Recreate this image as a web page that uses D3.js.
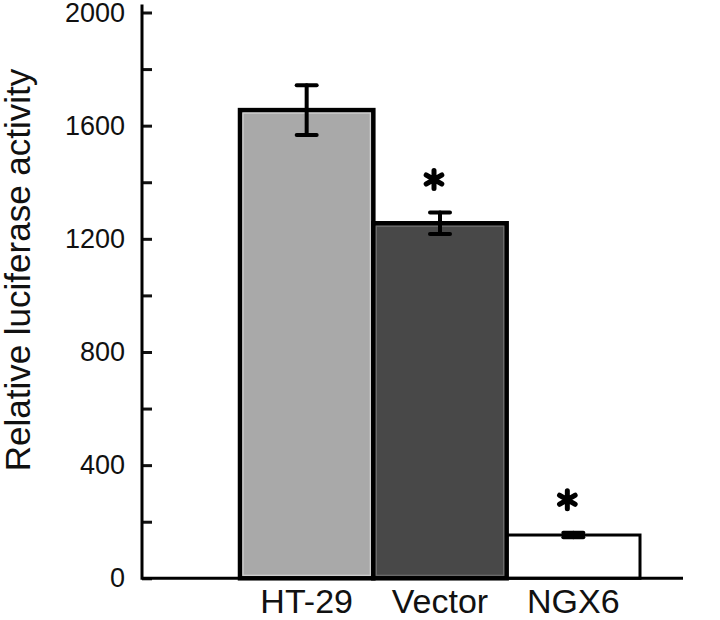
<!DOCTYPE html>
<html lang="en">
<head>
  <meta charset="UTF-8">
  <title>Relative luciferase activity</title>
  <style>
    body { margin: 0; background: #fff; }
    svg { display: block; background: #fff; }
    text { font-family: "Liberation Sans", Arial, sans-serif; fill: #111; }
    .tick line { stroke: #111; stroke-width: 3px; }
  </style>
</head>
<body>
  <svg id="chart" width="720" height="620"></svg>
  <script src="https://d3js.org/d3.v7.min.js"></script>
  <script>
    // values
    const categories = ["HT-29", "Vector", "NGX6"];
    const means = [1655, 1255, 153];
    const errors = [88, 38, 8];
    const significant = [false, true, true];
    const majorTicks = [0, 400, 800, 1200, 1600, 2000];
    const minorTicks = [200, 600, 1000, 1400, 1800];

    const data = categories.map((c, i) => ({ name: c, mean: means[i], err: errors[i], star: significant[i] }));

    const svg = d3.select("#chart");
    const axisX = 142, baseY = 578.3, topY = 12.5;

    const y = d3.scaleLinear().domain([0, 2000]).range([baseY, topY]);
    const x = d3.scaleBand().domain(categories).range([240, 640]).padding(0);

    const fill = d3.scaleOrdinal(categories, ["#a9a9a9", "#484848", "#ffffff"]);
    const inner = d3.scaleOrdinal(categories, ["#d2d2d2", "#6e6e6e", "none"]);

    // bars (NGX6 first so the thicker Vector edge sits on top)
    const barOrder = [data[2], data[0], data[1]];
    const bars = svg.append("g");
    bars.selectAll("rect.bar")
      .data(barOrder)
      .join("rect")
      .attr("class", "bar")
      .attr("x", d => x(d.name))
      .attr("y", d => y(d.mean))
      .attr("width", x.bandwidth())
      .attr("height", d => y(0) - y(d.mean))
      .attr("fill", d => fill(d.name))
      .attr("stroke", "#000")
      .attr("stroke-width", d => d.name === "NGX6" ? 3 : 4.5);

    bars.selectAll("rect.inner")
      .data(barOrder.filter(d => inner(d.name) !== "none"))
      .join("rect")
      .attr("class", "inner")
      .attr("x", d => x(d.name) + 3)
      .attr("y", d => y(d.mean) + 3)
      .attr("width", x.bandwidth() - 6)
      .attr("height", d => y(0) - y(d.mean) - 6)
      .attr("fill", "none")
      .attr("stroke", d => inner(d.name))
      .attr("stroke-width", 1.2);

    // error bars
    const eb = svg.append("g")
      .attr("stroke", "#000")
      .attr("stroke-width", 4)
      .attr("stroke-linecap", "round");
    const cx = d => x(d.name) + x.bandwidth() / 2;
    eb.selectAll("line.v")
      .data(data)
      .join("line")
      .attr("x1", cx).attr("x2", cx)
      .attr("y1", d => y(d.mean + d.err))
      .attr("y2", d => y(d.mean - d.err));
    eb.selectAll("line.top")
      .data(data)
      .join("line")
      .attr("x1", d => cx(d) - 10).attr("x2", d => cx(d) + 10)
      .attr("y1", d => y(d.mean + d.err)).attr("y2", d => y(d.mean + d.err));
    eb.selectAll("line.bot")
      .data(data)
      .join("line")
      .attr("x1", d => cx(d) - 10).attr("x2", d => cx(d) + 10)
      .attr("y1", d => y(d.mean - d.err)).attr("y2", d => y(d.mean - d.err));

    // significance stars
    svg.append("g")
      .selectAll("path")
      .data(data.filter(d => d.star))
      .join("path")
      .attr("transform", d => `translate(${cx(d) - 6},${y(d.mean + d.err) - 33})`)
      .attr("d", d3.symbol(d3.symbolAsterisk, 230))
      .attr("stroke", "#000")
      .attr("stroke-width", 5)
      .attr("stroke-linecap", "round")
      .attr("fill", "none");

    // y axis: ticks point inward
    const yAxis = svg.append("g").attr("transform", `translate(${axisX},0)`);
    yAxis.call(d3.axisLeft(y).tickValues(majorTicks).tickSize(-10).tickPadding(17).tickFormat(d3.format("d")))
      .call(g => g.select(".domain").remove())
      .call(g => g.selectAll("text").attr("font-size", 27).attr("fill", "#111"));
    yAxis.append("g")
      .call(d3.axisLeft(y).tickValues(minorTicks).tickSize(-10).tickFormat(""))
      .call(g => g.select(".domain").remove());
    yAxis.selectAll(".tick line").attr("stroke", "#111").attr("stroke-width", 3);

    // axis lines
    svg.append("path")
      .attr("d", `M${axisX},${topY - 8}V${baseY}H683`)
      .attr("fill", "none")
      .attr("stroke", "#000")
      .attr("stroke-width", 3);

    // category labels
    svg.append("g")
      .selectAll("text")
      .data(categories)
      .join("text")
      .attr("x", d => x(d) + x.bandwidth() / 2)
      .attr("y", 613)
      .attr("text-anchor", "middle")
      .attr("font-size", 34)
      .text(d => d);

    // y title
    svg.append("text")
      .attr("transform", "rotate(-90)")
      .attr("x", -270)
      .attr("y", 30)
      .attr("text-anchor", "middle")
      .attr("font-size", 35)
      .text("Relative luciferase activity");
  </script>
</body>
</html>
